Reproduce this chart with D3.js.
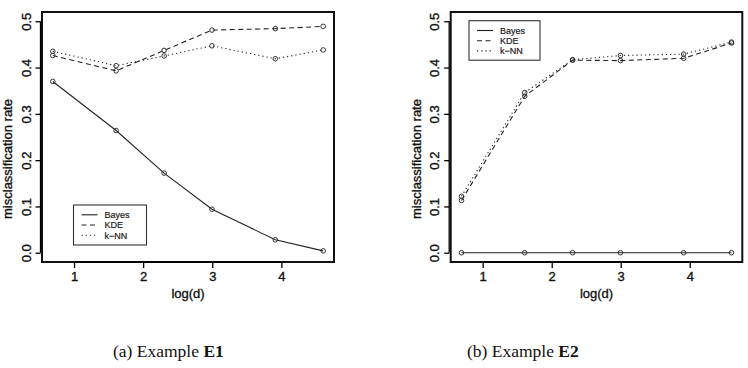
<!DOCTYPE html>
<html>
<head>
<meta charset="utf-8">
<script src="https://cdn.jsdelivr.net/npm/d3@7"></script>
<style>
  body { margin: 0; background: #fff; }
  svg { display: block; }
</style>
</head>
<body>
<svg id="chart"></svg>
<script>
width = 748;
height = 368;

// log(d) for d = 2, 5, 10, 20, 50, 100
logd = [0.693, 1.609, 2.303, 2.996, 3.912, 4.605];
xTicks = [1, 2, 3, 4];
yTicks = [0, 0.1, 0.2, 0.3, 0.4, 0.5];
seriesNames = ['Bayes', 'KDE', 'k\u2212NN'];

// Example E1
e1Bayes = [0.37, 0.264, 0.172, 0.094, 0.028, 0.004];
e1KDE = [0.426, 0.393, 0.437, 0.481, 0.484, 0.489];
e1KNN = [0.435, 0.404, 0.425, 0.447, 0.419, 0.438];

// Example E2
e2Bayes = [0, 0, 0, 0, 0, 0];
e2KDE = [0.113, 0.338, 0.416, 0.415, 0.42, 0.453];
e2KNN = [0.122, 0.346, 0.417, 0.426, 0.429, 0.455];

dashes = [null, '5,3.5', '1.2,3'];
sans = 'Liberation Sans, Arial, sans-serif';

const svg = d3.select('#chart').attr('width', width).attr('height', height);

// R-ish text: slightly heavy, like the scanned figure
styleText = sel =>
  sel
    .attr('font-size', 13)
    .attr('font-family', sans)
    .attr('fill', '#111')
    .attr('stroke', '#111')
    .attr('stroke-width', 0.35);

panel = (left, right, top, bottom, series, legendPos, caption) => {
  const pad = 0.04 * (d3.max(logd) - d3.min(logd));
  x = d3
    .scaleLinear()
    .domain([d3.min(logd) - pad, d3.max(logd) + pad])
    .range([left, right]);
  y = d3
    .scaleLinear()
    .domain([-0.02, 0.52])
    .range([bottom, top]);

  const g = svg.append('g');

  // box
  g.append('rect')
    .attr('x', left)
    .attr('y', top)
    .attr('width', right - left)
    .attr('height', bottom - top)
    .attr('fill', 'none')
    .attr('stroke', '#111')
    .attr('stroke-width', 2);

  // x axis
  g.append('g')
    .attr('transform', `translate(0,${bottom})`)
    .call(
      d3
        .axisBottom(x)
        .tickValues(xTicks)
        .tickFormat(d3.format('d'))
        .tickSize(6)
        .tickPadding(4)
        .tickSizeOuter(0)
    )
    .call(g => g.select('.domain').attr('d', `M${x(1)},0H${x(4)}`).attr('stroke-width', 1.3))
    .call(g => g.selectAll('.tick line').attr('stroke-width', 1.3))
    .call(g => g.selectAll('.tick text').call(styleText));

  g.append('text')
    .attr('x', (left + right) / 2)
    .attr('y', bottom + 36)
    .attr('text-anchor', 'middle')
    .call(styleText)
    .text('log(d)');

  // y axis
  g.append('g')
    .attr('transform', `translate(${left - 1.5},0)`)
    .call(
      d3
        .axisLeft(y)
        .tickValues(yTicks)
        .tickSize(5)
        .tickSizeOuter(0)
        .tickFormat(d3.format('.1f'))
    )
    .call(g => g.select('.domain').attr('stroke-width', 1.3).attr('d', `M0,${y(0)}V${y(0.5)}`))
    .call(g => g.selectAll('.tick line').attr('stroke-width', 1.3))
    .call(g =>
      g
        .selectAll('.tick text')
        .attr('x', null)
        .attr('dy', null)
        .attr('transform', 'translate(-9.8,0) rotate(-90)')
        .attr('text-anchor', 'middle')
        .call(styleText)
    );

  g.append('text')
    .attr('transform', `translate(${left - 30},159) rotate(-90)`)
    .attr('text-anchor', 'middle')
    .call(styleText)
    .text('misclassification rate');

  // lines and points
  const line = d3
    .line()
    .x((d, i) => x(logd[i]))
    .y(d => y(d));

  series.forEach((s, k) => {
    g.append('path')
      .datum(s)
      .attr('d', line)
      .attr('fill', 'none')
      .attr('stroke', '#222')
      .attr('stroke-width', 1.1)
      .attr('stroke-dasharray', dashes[k]);
    g.append('g')
      .selectAll('circle')
      .data(s)
      .join('circle')
      .attr('cx', (d, i) => x(logd[i]))
      .attr('cy', d => y(d))
      .attr('r', 2.3)
      .attr('fill', 'none')
      .attr('stroke', '#333')
      .attr('stroke-width', 1);
  });

  // legend
  const lg = g.append('g').attr('transform', `translate(${legendPos[0]},${legendPos[1]})`);
  lg.append('rect')
    .attr('width', legendPos[2])
    .attr('height', legendPos[3])
    .attr('fill', '#fff')
    .attr('stroke', '#333')
    .attr('stroke-width', 1.1);
  seriesNames.forEach((n, k) => {
    const yy = 9.8 + k * 10.2;
    lg.append('line')
      .attr('x1', 8)
      .attr('x2', 24)
      .attr('y1', yy)
      .attr('y2', yy)
      .attr('stroke', '#222')
      .attr('stroke-width', 1.1)
      .attr('stroke-dasharray', dashes[k]);
    lg.append('text')
      .attr('x', 31)
      .attr('y', yy + 3.3)
      .attr('font-size', 9)
      .attr('font-family', sans)
      .attr('fill', '#222')
      .attr('stroke', '#222')
      .attr('stroke-width', 0.2)
      .text(n);
  });

  // caption
  const cap = g
    .append('text')
    .attr('x', caption[0])
    .attr('y', 357)
    .attr('font-size', 17.5)
    .attr('font-family', 'Liberation Serif, Times New Roman, serif')
    .attr('fill', '#111');
  cap.append('tspan').text(caption[1]);
  cap.append('tspan').attr('font-weight', 'bold').text(caption[2]);
};

panel(42, 334, 12, 262, [e1Bayes, e1KDE, e1KNN], [73.5, 205, 73, 40], [113, '(a) Example ', 'E1']);
panel(450.7, 742.3, 12, 262, [e2Bayes, e2KDE, e2KNN], [469, 20.7, 71, 39.5], [467, '(b) Example ', 'E2']);
</script>
</body>
</html>
